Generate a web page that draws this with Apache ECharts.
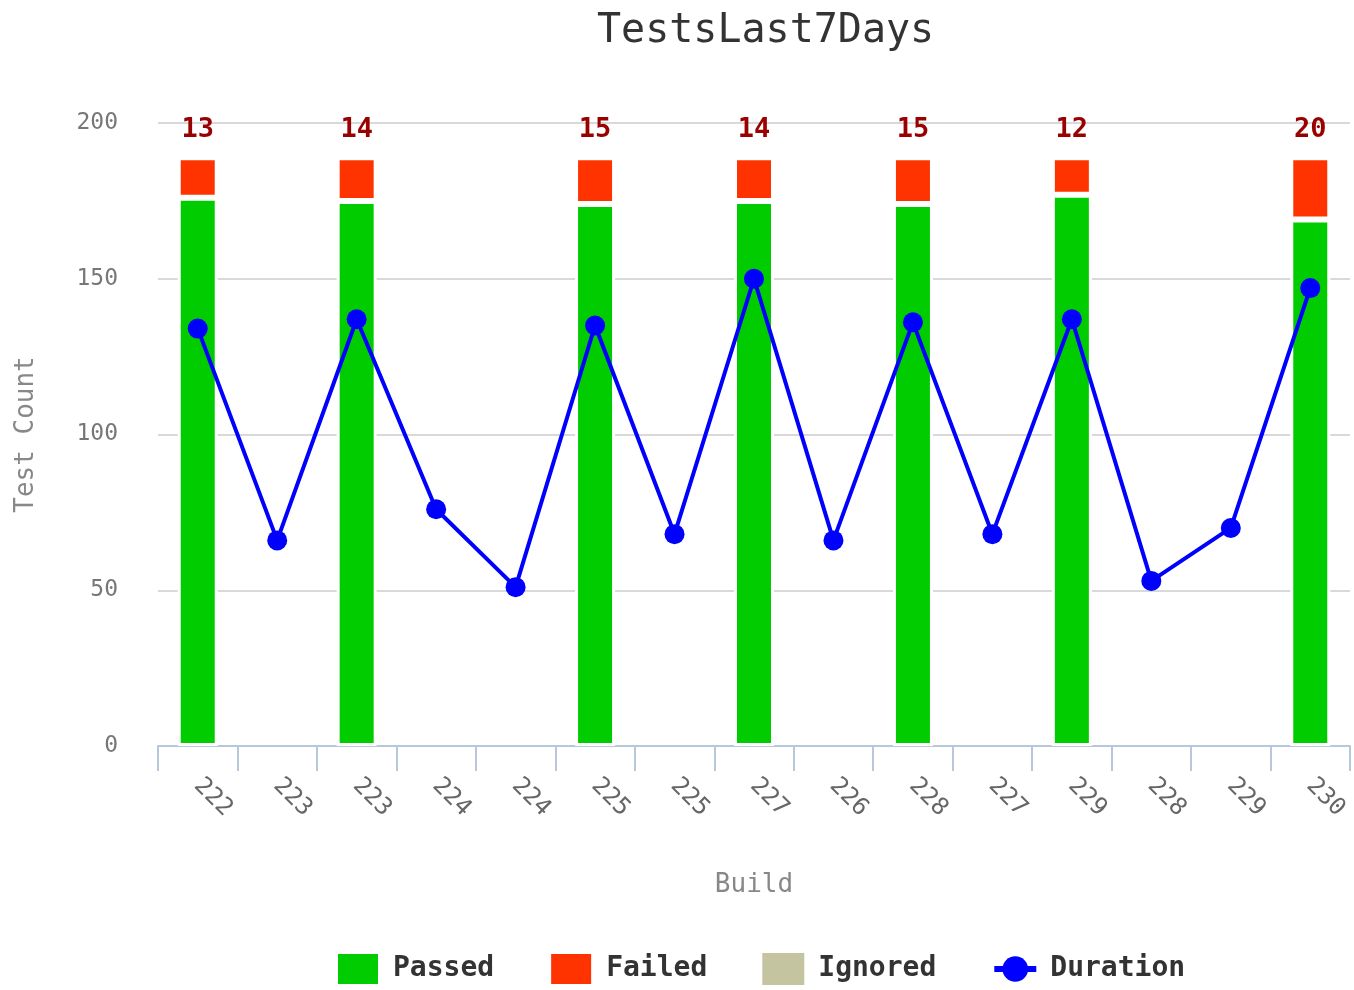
<!DOCTYPE html>
<html>
<head>
<meta charset="utf-8">
<script src="https://cdn.jsdelivr.net/npm/echarts@6/dist/echarts.min.js"></script>
<style>html,body{margin:0;padding:0;background:#fff}#c{width:1354px;height:990px}</style>
</head>
<body>
<div id="c"></div>
<script>
const builds = ['222','223','223','224','224','225','225','227','226','228','227','229','228','229','230'];
const passed = [176,'-',175,'-','-',174,'-',175,'-',174,'-',177,'-','-',169];
const failed = [13,'-',14,'-','-',15,'-',14,'-',15,'-',12,'-','-',20];
const ignored = [0,'-',0,'-','-',0,'-',0,'-',0,'-',0,'-','-',0];
const duration = [134,66,137,76,51,135,68,150,66,136,68,137,53,70,147];
const yTicks = [0,50,100,150,200];

const FONT = 'DejaVu Sans Mono';
const chart = echarts.init(document.getElementById('c'));
chart.setOption({
  animation: false,
  textStyle: {fontFamily: FONT},
  title: {
    text: 'TestsLast7Days', left: 592, top: 7,
    textStyle: {fontFamily: FONT, fontSize: 40, fontWeight: 'normal', color: '#333'}
  },
  legend: {
    left: 336, top: 952, padding: 0, itemWidth: 42, itemHeight: 32, itemGap: 55,
    textStyle: {fontFamily: FONT, fontSize: 28, fontWeight: 'bold', color: '#333', padding: [0,0,0,9]},
    data: [{name: 'Passed', icon: 'rect'}, {name: 'Failed', icon: 'rect'},
           {name: 'Ignored', icon: 'rect'}, {name: 'Duration', lineStyle: {width: 6}}]
  },
  grid: {left: 158, right: 4, top: 123, bottom: 244},
  xAxis: {
    type: 'category', data: builds,
    name: 'Build', nameLocation: 'middle', nameGap: 126,
    nameTextStyle: {fontFamily: FONT, fontSize: 26, color: '#888'},
    axisLine: {lineStyle: {color: '#b8c8dc', width: 2}},
    axisTick: {show: true, length: 25, interval: 0, lineStyle: {color: '#b8c8dc', width: 2}},
    axisLabel: {rotate: -45, margin: 36, fontFamily: FONT, fontSize: 24, color: '#666', interval: 0}
  },
  yAxis: {
    type: 'value', min: yTicks[0], max: yTicks[yTicks.length-1], interval: 50,
    name: 'Test Count', nameLocation: 'middle', nameGap: 119, nameRotate: 90,
    nameTextStyle: {fontFamily: FONT, fontSize: 26, color: '#888'},
    axisLine: {show: false}, axisTick: {show: false},
    splitLine: {lineStyle: {color: '#d9d9d9', width: 2}},
    axisLabel: {margin: 40, fontFamily: FONT, fontSize: 23, color: '#777'}
  },
  series: [
    {name: 'Passed', type: 'bar', stack: 't', data: passed, barWidth: 40,
     itemStyle: {color: '#00cc00', borderColor: '#fff', borderWidth: 3}},
    {name: 'Failed', type: 'bar', stack: 't', data: failed, barWidth: 40,
     itemStyle: {color: '#ff3300', borderColor: '#fff', borderWidth: 3},
     label: {show: true, position: 'top', distance: 14, fontFamily: FONT, fontSize: 27,
             fontWeight: 'bold', color: '#990000'}},
    {name: 'Ignored', type: 'bar', stack: 't', data: ignored, barWidth: 40,
     itemStyle: {color: '#c4c4a0', borderWidth: 0}},
    {name: 'Duration', type: 'line', data: duration, symbol: 'circle', symbolSize: 20,
     z: 5, lineStyle: {color: '#0000ff', width: 4}, itemStyle: {color: '#0000ff'}}
  ]
});
</script>
</body>
</html>
